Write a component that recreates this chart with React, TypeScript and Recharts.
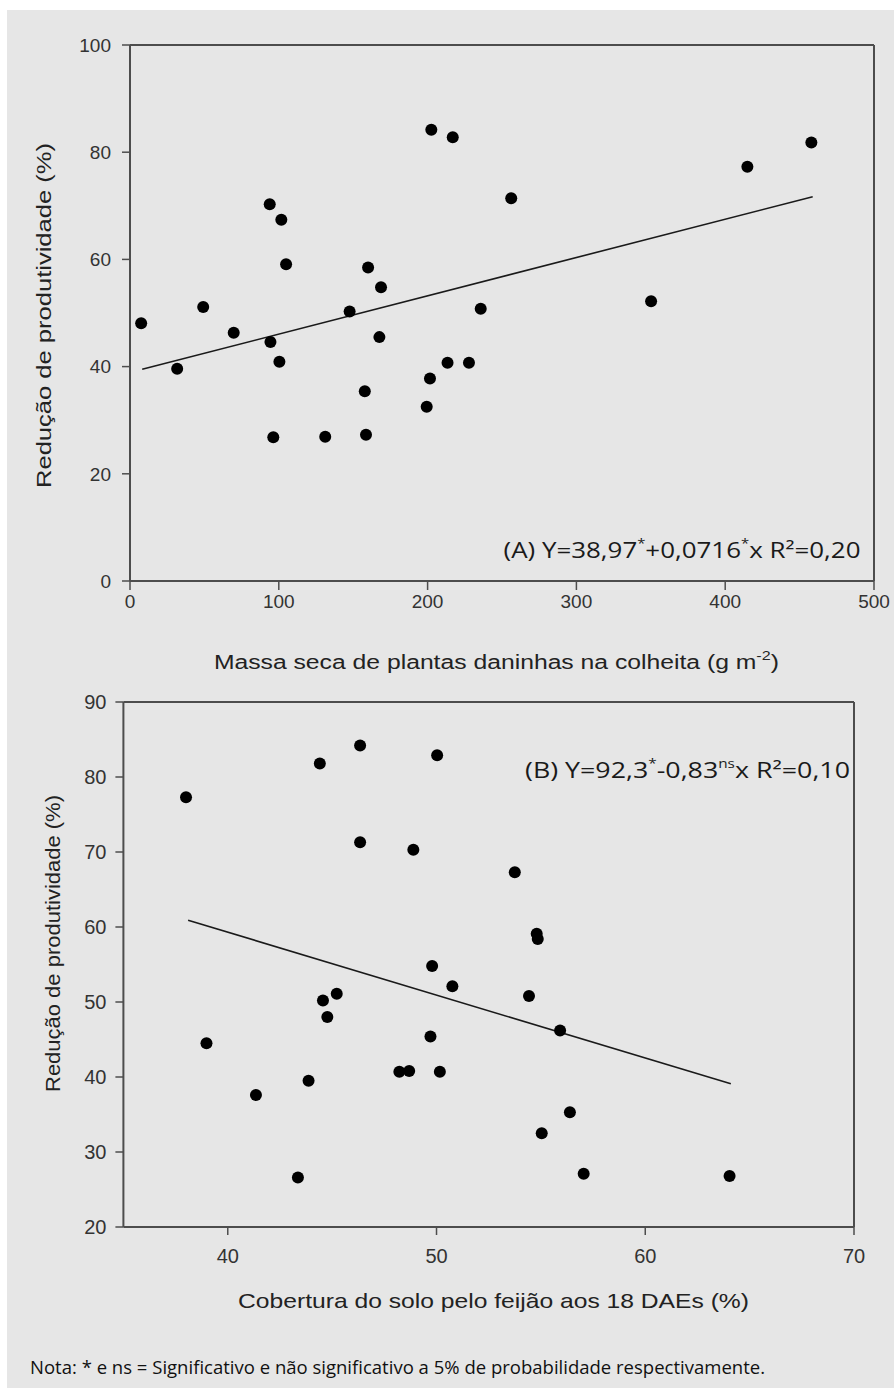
import React from 'react';
import { ScatterChart, Scatter, XAxis, YAxis, ReferenceLine, Label } from 'recharts';

// (A) massa seca de plantas daninhas na colheita (g m-2) x reducao de produtividade (%)
const massaSeca = [7.5, 31.7, 49.2, 69.7, 93.9, 101.7, 104.9, 94.4, 100.4, 96.3, 131.2, 147.6, 157.8, 158.6, 160.0, 167.6, 168.7, 199.4, 201.6, 202.5, 213.4, 216.9, 227.8, 235.7, 256.2, 350.2, 414.9, 457.9];
const reducaoA = [48.1, 39.6, 51.1, 46.3, 70.3, 67.4, 59.1, 44.6, 40.9, 26.8, 26.9, 50.3, 35.4, 27.3, 58.5, 45.5, 54.8, 32.5, 37.8, 84.2, 40.7, 82.8, 40.7, 50.8, 71.4, 52.2, 77.3, 81.8];
// ends of the fitted line
const ajusteAx = [8.2, 458.8];
const ajusteAy = [39.5, 71.7];
const ticksXA = [0, 100, 200, 300, 400, 500];
const ticksYA = [0, 20, 40, 60, 80, 100];

// (B) cobertura do solo pelo feijao aos 18 DAEs (%) x reducao de produtividade (%)
const cobertura = [38.0, 44.41, 46.34, 50.03, 46.34, 48.89, 53.75, 54.8, 54.85, 49.79, 50.76, 54.43, 55.92, 45.22, 44.56, 44.77, 49.71, 38.98, 48.22, 48.69, 50.16, 43.87, 41.35, 56.39, 55.04, 43.36, 57.05, 64.04];
const reducaoB = [77.3, 81.8, 84.2, 82.9, 71.3, 70.3, 67.3, 59.1, 58.4, 54.8, 52.1, 50.8, 46.2, 51.1, 50.2, 48.0, 45.4, 44.5, 40.7, 40.8, 40.7, 39.5, 37.6, 35.3, 32.5, 26.6, 27.1, 26.8];
const ajusteBx = [38.1, 64.1];
const ajusteBy = [60.9, 39.1];
const ticksXB = [40, 50, 60, 70];
const ticksYB = [20, 30, 40, 50, 60, 70, 80, 90];

const pares = (xs: number[], ys: number[]) => xs.map((x, i) => ({ x, y: ys[i] }));

const SANS = 'Liberation Sans, Arial, sans-serif';
const CAL = 'Open Sans, sans-serif';
const AXIS = '#4d4d4d';

const Ponto = (p: any) => <circle cx={p.cx} cy={p.cy} r={6} fill="#000" />;
const Nada = () => <g />;

const tituloX = (dx: number, dy: number, len: number, size: number, body: React.ReactNode) => (props: any) => {
  const vb = props.viewBox;
  return (
    <text x={vb.x + vb.width / 2 + dx} y={vb.y + dy} textAnchor="middle" dominantBaseline="central"
      fontFamily={SANS} fontSize={size} fill="#222" textLength={len} lengthAdjust="spacingAndGlyphs">
      {body}
    </text>
  );
};

const tituloY = (dx: number, dy: number, len: number, size: number, body: string) => (props: any) => {
  const vb = props.viewBox;
  const cx = vb.x + dx;
  const cy = vb.y + vb.height / 2 + dy;
  return (
    <text x={cx} y={cy} transform={`rotate(-90 ${cx} ${cy})`} textAnchor="middle" dominantBaseline="central"
      fontFamily={SANS} fontSize={size} fill="#222" textLength={len} lengthAdjust="spacingAndGlyphs">
      {body}
    </text>
  );
};

const PainelA = () => (
  <ScatterChart width={894} height={690} margin={{ top: 45, right: 20, bottom: 49, left: 70 }}>
    <XAxis type="number" dataKey="x" domain={[0, 500]} ticks={ticksXA} interval={0} height={60}
      tickSize={9} tickMargin={5} axisLine={{ stroke: AXIS, strokeWidth: 2 }} tickLine={{ stroke: AXIS, strokeWidth: 1.5 }}
      tick={{ fill: '#333', fontSize: 19, fontFamily: SANS }}>
      <Label content={tituloX(-5.6, 81, 565, 20, <>
        <tspan>Massa seca de plantas daninhas na colheita (g m</tspan>
        <tspan dy={-7} fontSize={13}>-2</tspan>
        <tspan dy={7}>)</tspan>
      </>)} />
    </XAxis>
    <YAxis type="number" dataKey="y" domain={[0, 100]} ticks={ticksYA} interval={0} width={60}
      tickSize={8} tickMargin={11} axisLine={{ stroke: AXIS, strokeWidth: 2 }} tickLine={{ stroke: AXIS, strokeWidth: 1.5 }}
      tick={{ fill: '#333', fontSize: 19, fontFamily: SANS }}>
      <Label content={tituloY(-26, 2.5, 345, 20, 'Redução de produtividade (%)')} />
    </YAxis>
    <ReferenceLine y={100} stroke={AXIS} strokeWidth={2} />
    <ReferenceLine x={500} stroke={AXIS} strokeWidth={2} />
    <Scatter data={pares(ajusteAx, ajusteAy)} line={{ stroke: '#1a1a1a', strokeWidth: 1.6 }} shape={Nada} isAnimationActive={false} />
    <Scatter data={pares(massaSeca, reducaoA)} shape={Ponto} isAnimationActive={false} />
  </ScatterChart>
);

const PainelB = () => (
  <ScatterChart width={894} height={650} margin={{ top: 12, right: 40, bottom: 53, left: 63.4 }}>
    <XAxis type="number" dataKey="x" domain={[35, 70]} ticks={ticksXB} interval={0} height={60}
      tickSize={8} tickMargin={14} axisLine={{ stroke: AXIS, strokeWidth: 2 }} tickLine={{ stroke: AXIS, strokeWidth: 1.5 }}
      tick={{ fill: '#333', fontSize: 20, fontFamily: SANS }}>
      <Label content={tituloX(4.8, 73.3, 511, 21, 'Cobertura do solo pelo feijão aos 18 DAEs (%)')} />
    </XAxis>
    <YAxis type="number" dataKey="y" domain={[20, 90]} ticks={ticksYB} interval={0} width={60}
      tickSize={8} tickMargin={9} axisLine={{ stroke: AXIS, strokeWidth: 2 }} tickLine={{ stroke: AXIS, strokeWidth: 1.5 }}
      tick={{ fill: '#333', fontSize: 20, fontFamily: SANS }}>
      <Label content={tituloY(-11.4, -21, 297, 21, 'Redução de produtividade (%)')} />
    </YAxis>
    <ReferenceLine y={90} stroke={AXIS} strokeWidth={2} />
    <ReferenceLine x={70} stroke={AXIS} strokeWidth={2} />
    <Scatter data={pares(ajusteBx, ajusteBy)} line={{ stroke: '#1a1a1a', strokeWidth: 1.6 }} shape={Nada} isAnimationActive={false} />
    <Scatter data={pares(cobertura, reducaoB)} shape={Ponto} isAnimationActive={false} />
  </ScatterChart>
);

export default function App() {
  return (
    <div style={{ position: 'absolute', left: 0, top: 0, width: 894, height: 1388, background: '#fff', overflow: 'hidden' }}>
      <div style={{ position: 'absolute', left: 7, top: 10, right: 0, bottom: 0, background: '#e6e6e6' }} />
      <div style={{ position: 'absolute', left: 0, top: 0 }}>
        <PainelA />
      </div>
      <div style={{ position: 'absolute', left: 0, top: 690 }}>
        <PainelB />
      </div>
      <svg width={894} height={1388} style={{ position: 'absolute', left: 0, top: 0, pointerEvents: 'none' }}>
        <text x={503.5} y={550} dominantBaseline="central" fontFamily={CAL} fontSize={21} fill="#1a1a1a"
          textLength={357} lengthAdjust="spacingAndGlyphs">
          <tspan>(A) Y=38,97</tspan>
          <tspan dy={-7} fontSize={12}>*</tspan>
          <tspan dy={7}>+0,0716</tspan>
          <tspan dy={-7} fontSize={12}>*</tspan>
          <tspan dy={7}>x R²=0,20</tspan>
        </text>
        <text x={525} y={770} dominantBaseline="central" fontFamily={CAL} fontSize={21} fill="#1a1a1a"
          textLength={325} lengthAdjust="spacingAndGlyphs">
          <tspan>(B) Y=92,3</tspan>
          <tspan dy={-7} fontSize={12}>*</tspan>
          <tspan dy={7}>-0,83</tspan>
          <tspan dy={-7} fontSize={12}>ns</tspan>
          <tspan dy={7}>x R²=0,10</tspan>
        </text>
        <text x={30} y={1367} dominantBaseline="central" fontFamily={CAL} fontSize={18} fill="#111"
          textLength={735} lengthAdjust="spacingAndGlyphs">
          Nota: * e ns = Significativo e não significativo a 5% de probabilidade respectivamente.
        </text>
      </svg>
    </div>
  );
}
